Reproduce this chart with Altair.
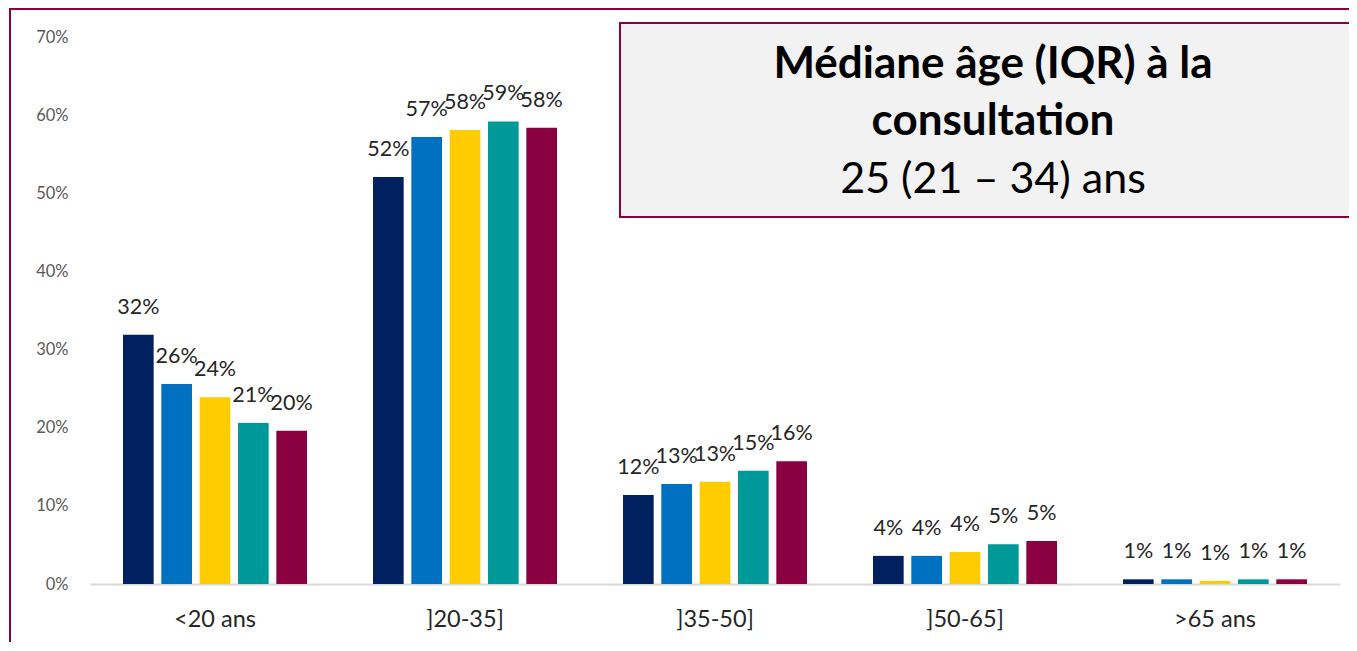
import altair as alt
import pandas as pd

categories = ["<20 ans", "]20-35]", "]35-50]", "]50-65]", ">65 ans"]
series = ["Série 1", "Série 2", "Série 3", "Série 4", "Série 5"]
colors = ["#002060", "#0070C0", "#FFCC00", "#009999", "#8B0041"]

values = {
    "Série 1": [0.319, 0.521, 0.114, 0.036, 0.006],
    "Série 2": [0.256, 0.572, 0.128, 0.036, 0.006],
    "Série 3": [0.239, 0.581, 0.131, 0.041, 0.004],
    "Série 4": [0.206, 0.592, 0.145, 0.051, 0.006],
    "Série 5": [0.196, 0.584, 0.157, 0.055, 0.006],
}
labels = {
    "Série 1": ["32%", "52%", "12%", "4%", "1%"],
    "Série 2": ["26%", "57%", "13%", "4%", "1%"],
    "Série 3": ["24%", "58%", "13%", "4%", "1%"],
    "Série 4": ["21%", "59%", "15%", "5%", "1%"],
    "Série 5": ["20%", "58%", "16%", "5%", "1%"],
}
box_lines = ["Médiane âge (IQR) à la", "consultation", "25 (21 – 34) ans"]

rows = []
for s in series:
    for c, v, l in zip(categories, values[s], labels[s]):
        rows.append({"cat": c, "serie": s, "val": v, "lab": l})
df = pd.DataFrame(rows)

FONT = "Lato"
W, H = 1250, 547
MAROON = "#8B0041"

x_enc = alt.X("cat:N", sort=categories,
              scale=alt.Scale(paddingInner=0.264, paddingOuter=0.132),
              axis=alt.Axis(title=None, labelAngle=0, ticks=False, domainColor="#d9d9d9",
                            domainWidth=2, labelFontSize=23.5, labelColor="#262626",
                            labelFont=FONT, labelPadding=23))
xo_enc = alt.XOffset("serie:N", sort=series, scale=alt.Scale(paddingInner=0.2, paddingOuter=0))
y_enc = alt.Y("val:Q", scale=alt.Scale(domain=[0, 0.7]),
              axis=alt.Axis(title=None, format=".0%", values=[0, 0.1, 0.2, 0.3, 0.4, 0.5, 0.6, 0.7],
                            grid=False, ticks=False, domain=False, labelFontSize=16.5,
                            labelColor="#595959", labelFont=FONT, labelPadding=22))

base = alt.Chart(df)
bars = base.mark_bar().encode(
    x=x_enc, xOffset=xo_enc, y=y_enc,
    color=alt.Color("serie:N", sort=series, scale=alt.Scale(domain=series, range=colors), legend=None),
)
texts = base.mark_text(baseline="middle", dy=-27, fontSize=21.5, font=FONT, color="#262626").encode(
    x=alt.X("cat:N", sort=categories), xOffset=alt.XOffset("serie:N", sort=series),
    y="val:Q", text="lab:N",
)

dummy = pd.DataFrame({"k": [0]})
# outer frame (left and top edges only; the rest runs off the picture)
frame_left = alt.Chart(dummy).mark_rule(color=MAROON, strokeWidth=2).encode(
    x=alt.value(-80), y=alt.value(-29), y2=alt.value(700))
frame_top = alt.Chart(dummy).mark_rule(color=MAROON, strokeWidth=2).encode(
    x=alt.value(-81), x2=alt.value(1500), y=alt.value(-28))
# info box
box_fill = alt.Chart(dummy).mark_rect(fill="#F2F2F2").encode(
    x=alt.value(530), x2=alt.value(1500), y=alt.value(-14), y2=alt.value(180))
box_left = alt.Chart(dummy).mark_rule(color=MAROON, strokeWidth=2).encode(
    x=alt.value(530), y=alt.value(-15), y2=alt.value(181))
box_top = alt.Chart(dummy).mark_rule(color=MAROON, strokeWidth=2).encode(
    x=alt.value(529), x2=alt.value(1500), y=alt.value(-14))
box_bottom = alt.Chart(dummy).mark_rule(color=MAROON, strokeWidth=2).encode(
    x=alt.value(529), x2=alt.value(1500), y=alt.value(180))

t1 = alt.Chart(pd.DataFrame({"t": [box_lines[0]]})).mark_text(
    fontSize=44, fontWeight="bold", font=FONT, color="#000000", baseline="middle").encode(
    x=alt.value(903), y=alt.value(28), text="t:N")
t2 = alt.Chart(pd.DataFrame({"t": [box_lines[1]]})).mark_text(
    fontSize=44, fontWeight="bold", font=FONT, color="#000000", baseline="middle").encode(
    x=alt.value(903), y=alt.value(85), text="t:N")
t3 = alt.Chart(pd.DataFrame({"t": [box_lines[2]]})).mark_text(
    fontSize=43, font=FONT, color="#000000", baseline="middle").encode(
    x=alt.value(903), y=alt.value(143), text="t:N")

chart = alt.layer(frame_left, frame_top, bars, texts, box_fill, box_left, box_top, box_bottom,
                  t1, t2, t3).properties(
    width=W, height=H,
    autosize=alt.AutoSizeParams(type="none"),
    padding={"left": 82, "top": 29, "right": 9, "bottom": 58},
).configure_view(stroke=None)

chart.save("out.html", embed_options={"renderer": "svg", "actions": False})
